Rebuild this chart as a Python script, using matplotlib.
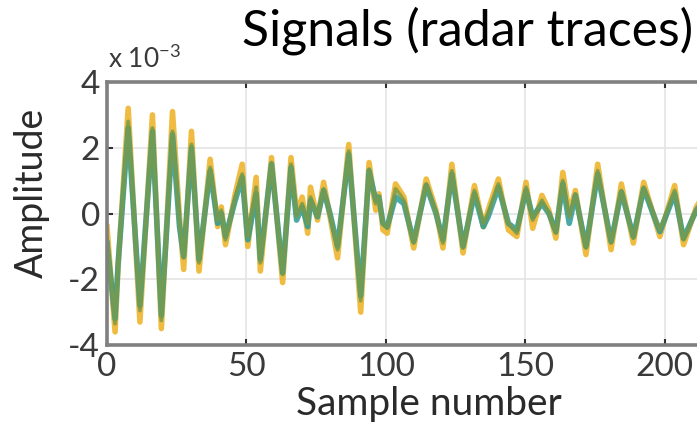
import matplotlib.pyplot as plt
import numpy as np

# sample positions of the turning points
samples = [0, 2.9, 4, 7.6, 11.8, 16.3, 19.5, 23.5, 26, 27.5, 30.3, 33, 37, 39.7, 41, 42.5,
           46, 48.5, 50.5, 53.5, 55, 59, 63, 66, 68, 70, 72, 73, 75.5, 77.7, 80, 82.7,
           86.7, 91, 94, 96.4, 97.5, 99, 100.5, 103.5, 106.5, 110, 114.5, 118, 120.5,
           123.7, 127.7, 131.8, 135, 136.7, 140.4, 144, 147, 150.3, 152.7, 156, 158.5,
           161, 163.5, 165.8, 168, 171.8, 176, 180.8, 184.5, 188.8, 192.5, 198.3, 203.6,
           206.8, 211.4, 215]

# amplitudes in units of 1e-3
trace_yellow = [-0.4, -3.6, -1.6, 3.2, -3.3, 3.0, -3.5, 3.1, -0.1, -1.7, 2.5, -1.75, 1.65, -0.4, 0.2, -0.95,
                0.6, 1.5, -1.0, 1.1, -1.75, 1.7, -2.1, 1.7, 0.0, 0.5, -0.6, 0.8, -0.2, 0.95, -0.1, -1.35,
                2.1, -3.0, 1.55, 0.1, 0.6, -0.5, -0.6, 0.9, 0.5, -1.05, 1.05, 0.1, -1.05,
                1.5, -1.2, 0.85, -0.4, 0.1, 1.05, -0.5, -0.7, 0.95, -0.45, 0.55, 0.1,
                -0.75, 1.25, 0.0, 0.7, -1.25, 1.5, -1.1, 0.9, -0.9, 0.95, -0.7, 0.85,
                -0.95, 0.2, 0.7]
trace_teal = [-0.9, -3.2, -1.5, 2.6, -2.8, 2.5, -3.1, 2.4, -0.4, -1.3, 2.0, -1.4, 1.3, -0.3, 0.0, -0.7,
              0.4, 1.1, -0.8, 0.6, -1.4, 1.5, -1.8, 1.4, -0.2, 0.2, -0.4, 0.4, -0.1, 0.7, 0.0, -1.0,
              1.8, -2.5, 1.3, 0.4, 0.5, -0.3, -0.4, 0.5, 0.3, -0.85, 0.85, 0.0, -0.8,
              1.2, -1.0, 0.6, -0.4, -0.1, 0.8, -0.3, -0.5, 0.7, -0.1, 0.3, 0.0,
              -0.55, 0.9, -0.3, 0.55, -1.0, 1.2, -0.85, 0.65, -0.7, 0.75, -0.55, 0.6,
              -0.75, 0.1, 0.5]
trace_green = [-0.7, -3.35, -1.5, 2.8, -2.95, 2.6, -3.25, 2.5, -0.3, -1.35, 2.1, -1.5, 1.4, -0.2, 0.1, -0.8,
               0.5, 1.2, -0.7, 0.8, -1.5, 1.55, -1.85, 1.5, -0.1, 0.3, -0.3, 0.5, -0.1, 0.75, 0.0, -1.1,
               1.9, -2.65, 1.35, 0.3, 0.5, -0.3, -0.45, 0.75, 0.4, -0.9, 0.9, 0.0, -0.9,
               1.3, -1.05, 0.7, -0.3, 0.0, 0.9, -0.3, -0.6, 0.8, -0.2, 0.4, 0.0,
               -0.6, 1.0, -0.1, 0.6, -1.05, 1.3, -0.9, 0.7, -0.75, 0.8, -0.5, 0.7,
               -0.8, 0.1, 0.6]

x_ticks = [0, 50, 100, 150, 200]
y_ticks = [-4, -2, 0, 2, 4]

plt.rcParams['font.family'] = ['Lato', 'DejaVu Sans']
plt.rcParams['axes.unicode_minus'] = False

fig = plt.figure(figsize=(6.97, 4.33), dpi=100)
# axes run past the right edge, the picture is cropped there
ax = fig.add_axes([0.1535, 0.2032, 0.924, 0.6074])

ax.plot(samples, trace_yellow, color='#EDB120', linewidth=4, alpha=0.85)
ax.plot(samples, trace_teal, color='#2A9A98', linewidth=4, alpha=0.85)
ax.plot(samples, trace_green, color='#7A9A48', linewidth=2.8, alpha=0.8)

ax.set_xlim(0, 231)
ax.set_ylim(-4, 4)
ax.set_xticks(x_ticks)
ax.set_yticks(y_ticks)
ax.grid(True, color='#e4e4e4', linewidth=1.2)
ax.set_axisbelow(True)

for side in ['left', 'top', 'bottom', 'right']:
    ax.spines[side].set_color('#808080')
    ax.spines[side].set_linewidth(2.6)

ax.tick_params(direction='in', length=4, width=1.5, color='#303030',
               labelsize=24, labelcolor='#3a3a3a', top=True, right=True, pad=5)

ax.set_xlabel('Sample number', fontsize=28, color='#2a2a2a', labelpad=3)
ax.set_ylabel('Amplitude', fontsize=27, color='#2a2a2a')
ax.yaxis.set_label_coords(-0.088, 0.58)

fig.text(0.155, 0.842, r'x 10$^{\mathregular{-3}}$', fontsize=19, color='#3a3a3a')
fig.text(0.995, 0.985, 'Signals (radar traces)', fontsize=36, color='black',
         ha='right', va='top')

fig.savefig('out.png', dpi=100)
